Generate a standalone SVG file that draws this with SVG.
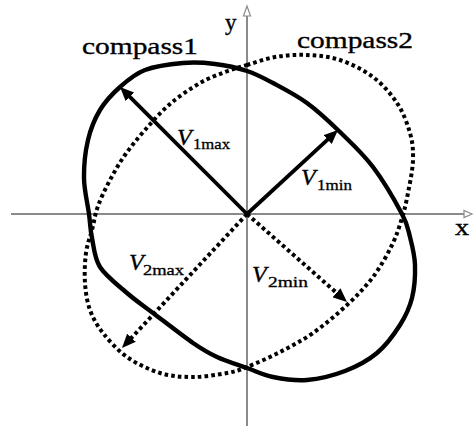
<svg xmlns="http://www.w3.org/2000/svg" width="476" height="426" viewBox="0 0 476 426">
  <style>
    .axis { stroke: #8a8a8a; stroke-width: 2; fill: none; }
    .axhead { stroke: #8a8a8a; stroke-width: 1.2; fill: #ffffff; }
    .solid { stroke: #000; stroke-width: 4.4; fill: none; }
    .dotted { stroke: #000; stroke-width: 4; fill: none; stroke-dasharray: 3.6 3.1; }
    .vec { stroke: #000; stroke-width: 3.8; fill: none; }
    .vecd { stroke: #000; stroke-width: 4; fill: none; stroke-dasharray: 3.6 3.1; }
    .lbl { font-family: "Liberation Serif", "Times New Roman", serif; font-size: 23px; fill: #000; stroke: #000; stroke-width: 0.35; }
    .v { font-family: "Liberation Serif", "Times New Roman", serif; font-size: 24px; font-style: italic; fill: #000; stroke: #000; stroke-width: 0.35; }
    .sub { font-family: "Liberation Serif", "Times New Roman", serif; font-size: 15px; fill: #000; stroke: #000; stroke-width: 0.3; }
  </style>
  <defs>
    <marker id="head" viewBox="0 0 14 12" refX="4" refY="6" markerWidth="14" markerHeight="12" markerUnits="userSpaceOnUse" orient="auto">
      <path d="M0,0 L14,6 L0,12 Z" fill="#000"/>
    </marker>
  </defs>
  <rect width="476" height="426" fill="#ffffff"/>

  <g id="axes">
    <line class="axis" x1="11" y1="214" x2="465" y2="214"/>
    <polygon class="axhead" points="472,214 464,210.5 464,217.5"/>
    <line class="axis" x1="247" y1="16" x2="247" y2="426"/>
    <polygon class="axhead" points="247,6 243.5,16 250.5,16"/>
    <text class="lbl" x="225" y="30">y</text>
    <text class="lbl" x="455" y="235" textLength="14" lengthAdjust="spacingAndGlyphs">x</text>
  </g>

  <g id="compass1">
    <path class="solid" d="M89,214 C87.67,204 84.17,190.33 84,178 C83.830,165.67 85.33,151.33 88,140 C90.67,128.67 94.67,118.83 100,110 C105.33,101.17 112.5,93.67 120,87 C127.5,80.33 134.5,74 145,70 C155.5,66 171.33,64 183,63 C194.67,62 204.33,62.67 215,64 C225.67,65.33 237.33,67.83 247,71 C256.67,74.17 263,77.67 273,83 C283,88.33 295.83,94.83 307,103 C318.17,111.17 329,121.33 340,132 C351,142.67 362.67,153.33 373,167 C383.33,180.67 395.83,202.33 402,214 C408.17,225.67 407.83,228.5 410,237 C412.17,245.5 414.67,254.83 415,265 C415.33,275.17 414.5,288 412,298 C409.5,308 405.83,315.83 400,325 C394.17,334.17 386.17,345.33 377,353 C367.83,360.67 356.67,366.5 345,371 C333.33,375.5 319,379 307,380 C295,381 283,379 273,377 C263,375 256.33,371.33 247,368 C237.67,364.67 226,361.17 217,357 C208,352.83 203.67,350.33 193,343 C182.33,335.67 164,321.33 153,313 C142,304.67 135.83,300.67 127,293 C118.17,285.33 105.83,276.17 100,267 C94.17,257.83 93.83,246.83 92,238 C90.17,229.17 90.33,224 89,214 Z"/>
    <text class="lbl" x="82" y="54" textLength="116" lengthAdjust="spacingAndGlyphs">compass1</text>
  </g>

  <g id="compass2">
    <path class="dotted" d="M247,65 C255.33,62.5 265,58.67 275,57 C285,55.33 296.17,54.5 307,55 C317.83,55.5 329,56.33 340,60 C351,63.67 363.5,69.83 373,77 C382.5,84.17 390.83,93.67 397,103 C403.17,112.33 407.33,123.5 410,133 C412.67,142.5 413.33,150 413,160 C412.67,170 409.83,183.33 408,193 C406.17,202.67 404.67,209.33 402,218 C399.33,226.67 396.83,235.17 392,245 C387.17,254.83 380.5,267 373,277 C365.5,287 357,295.67 347,305 C337,314.33 324.17,325.17 313,333 C301.83,340.83 291,346.33 280,352 C269,357.67 255.83,363.5 247,367 C238.17,370.5 236,371.33 227,373 C218,374.67 204.17,377 193,377 C181.83,377 171,376.33 160,373 C149,369.67 136.5,363.67 127,357 C117.5,350.33 109.17,340.83 103,333 C96.83,325.17 93,318.33 90,310 C87,301.67 85.67,292.5 85,283 C84.33,273.5 84.83,261.83 86,253 C87.17,244.17 90,237.83 92,230 C94,222.17 95,214.33 98,206 C101,197.67 105.5,188.5 110,180 C114.5,171.5 119.17,163.33 125,155 C130.83,146.67 137.5,138.5 145,130 C152.5,121.5 160.83,111.83 170,104 C179.17,96.17 190.83,88.33 200,83 C209.17,77.67 217.17,75 225,72 C232.83,69 238.67,67.5 247,65 Z"/>
    <text class="lbl" x="297" y="48" textLength="116" lengthAdjust="spacingAndGlyphs">compass2</text>
  </g>

  <g id="connectors">
    <line id="v1max" class="vec" x1="247" y1="214" x2="127.1" y2="94.1" marker-end="url(#head)"/>
    <line id="v1min" class="vec" x1="247" y1="214" x2="330.6" y2="136.8" marker-end="url(#head)"/>
    <line id="v2max" class="vecd" x1="247" y1="214" x2="128.8" y2="340.7" marker-end="url(#head)"/>
    <line id="v2min" class="vecd" x1="247" y1="214" x2="339.5" y2="295.4" marker-end="url(#head)"/>
  </g>

  <g id="labels">
    <text class="v" x="177" y="145">V</text>
    <text class="sub" x="193" y="149" textLength="37" lengthAdjust="spacingAndGlyphs">1max</text>
    <text class="v" x="301" y="185">V</text>
    <text class="sub" x="317" y="190" textLength="35" lengthAdjust="spacingAndGlyphs">1min</text>
    <text class="v" x="129" y="270">V</text>
    <text class="sub" x="143" y="275" textLength="41" lengthAdjust="spacingAndGlyphs">2max</text>
    <text class="v" x="252" y="282">V</text>
    <text class="sub" x="268" y="287" textLength="40" lengthAdjust="spacingAndGlyphs">2min</text>
  </g>
</svg>
